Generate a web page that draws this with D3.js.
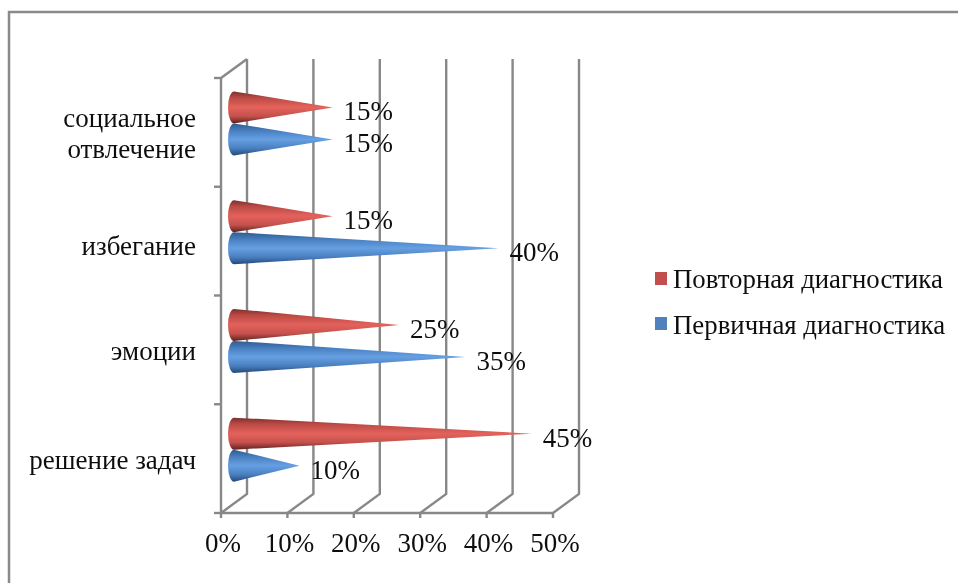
<!DOCTYPE html>
<html>
<head>
<meta charset="utf-8">
<script src="https://cdn.jsdelivr.net/npm/d3@7"></script>
<style>
html, body { margin: 0; padding: 0; background: #fff; }
text { font-family: "Liberation Serif", serif; fill: #111; }
</style>
</head>
<body>
<script>
var categories = ['решение задач', 'эмоции', 'избегание', 'социальное|отвлечение']
var firstValues = [10, 35, 40, 15]
var repeatValues = [45, 25, 15, 15]
var xTicks = [0, 10, 20, 30, 40, 50]
var legendNames = ['Повторная диагностика', 'Первичная диагностика']
var legendColors = ['#c0504d', '#4f81bd']

var width = 958, height = 583

var svg = d3.select('body').append('svg')
	.attr('width', width)
	.attr('height', height)
	.style('display', 'block')

var defs = svg.append('defs')
function coneGradient(id, stops){
	var g = defs.append('linearGradient').attr('id', id)
		.attr('x1', 0).attr('y1', 0).attr('x2', 0).attr('y2', 1)
	stops.forEach(function(s){
		g.append('stop').attr('offset', s[0]).attr('stop-color', s[1])
	})
}
coneGradient('redCone', [[0, '#7a2f2d'], [0.2, '#bb4a44'], [0.5, '#e4625c'], [0.78, '#c4504c'], [1, '#5e2220']])
coneGradient('blueCone', [[0, '#2f5a8f'], [0.25, '#4a82c4'], [0.5, '#66a0e2'], [0.78, '#4a7fc0'], [1, '#234a78']])

// the source picture is a soft scan, so everything gets a slight blur
defs.append('filter').attr('id', 'soft')
	.attr('filterUnits', 'userSpaceOnUse')
	.attr('x', 0).attr('y', 0)
	.attr('width', width).attr('height', height)
	.append('feGaussianBlur').attr('stdDeviation', 0.45)

var root = svg.append('g').attr('filter', 'url(#soft)')

root.append('rect')
	.attr('width', width).attr('height', height)
	.style('fill', '#fff')

// frame of the picture
root.append('rect')
	.attr('x', 9).attr('y', 12)
	.attr('width', 960).attr('height', 600)
	.style('fill', '#fff')
	.style('stroke', '#8a8a8a')
	.style('stroke-width', 2.5)

var x = d3.scaleLinear().domain([0, 50]).range([221, 553])
var y = d3.scaleBand().domain(categories).range([513, 78])
var depthX = 26, depthY = -19

var grid = root.append('g').style('stroke', '#888').style('stroke-width', 2.4).style('fill', 'none')

// walls
grid.selectAll('.wall').data(xTicks).enter().append('path')
	.attr('class', 'wall')
	.attr('d', function(d){
		return d3.line()([[x(d), 513], [x(d) + depthX, 513 + depthY], [x(d) + depthX, 78 + depthY]])
	})
grid.append('path').attr('d', d3.line()([[x(0), 78], [x(0) + depthX, 78 + depthY]]))
grid.append('path').attr('d', d3.line()([[x(0), 78], [x(0), 513], [x(50), 513]]))

// ticks
grid.selectAll('.xtick').data(xTicks).enter().append('line')
	.attr('class', 'xtick')
	.attr('x1', function(d){ return x(d) }).attr('x2', function(d){ return x(d) })
	.attr('y1', 513).attr('y2', 518)
var yEdges = categories.map(function(c){ return y(c) + y.bandwidth() }).concat([y(categories[3])])
grid.selectAll('.ytick').data(yEdges).enter().append('line')
	.attr('class', 'ytick')
	.attr('x1', x(0) - 7).attr('x2', x(0))
	.attr('y1', function(d){ return d }).attr('y2', function(d){ return d })

root.selectAll('.xlabel').data(xTicks).enter().append('text')
	.attr('class', 'xlabel')
	.attr('x', function(d){ return x(d) + 2 })
	.attr('y', 552)
	.attr('text-anchor', 'middle')
	.style('font-size', '27px')
	.text(function(d){ return d + '%' })

// category labels, the third one sits a little lower in the picture
var catLabels = root.selectAll('.cat').data(categories).enter().append('text')
	.attr('class', 'cat')
	.attr('text-anchor', 'end')
	.style('font-size', '27px')
catLabels.each(function(c, n){
	var lines = c.split('|')
	var mid = y(c) + y.bandwidth() / 2 + (n == 2 ? 14 : 10)
	d3.select(this).selectAll('tspan').data(lines).enter().append('tspan')
		.attr('x', 196)
		.attr('y', function(d, i){ return mid + (i - (lines.length - 1) / 2) * 31 })
		.text(function(d){ return d })
})

// cones
var baseOffset = 12, coneHalf = 16, baseRx = 6
var barGap = 16, barLift = -9
function cone(d){
	var cy = y(d.cat) + y.bandwidth() / 2 + barLift + d.shift
	var bx = x(0) + 13
	var tip = x(d.value) + baseOffset
	return 'M' + tip + ',' + cy +
		'L' + bx + ',' + (cy - coneHalf) +
		'A' + baseRx + ',' + coneHalf + ' 0 0 0 ' + bx + ',' + (cy + coneHalf) + 'Z'
}
var coneData = []
categories.forEach(function(c, i){
	coneData.push({cat: c, value: firstValues[i], shift: barGap, fill: 'url(#blueCone)'})
	coneData.push({cat: c, value: repeatValues[i], shift: -barGap, fill: 'url(#redCone)'})
})
root.selectAll('.cone').data(coneData).enter().append('path')
	.attr('class', 'cone')
	.attr('d', cone)
	.style('fill', function(d){ return d.fill })

root.selectAll('.vlabel').data(coneData).enter().append('text')
	.attr('class', 'vlabel')
	.attr('x', function(d){ return x(d.value) + 23 })
	.attr('y', function(d){ return y(d.cat) + y.bandwidth() / 2 + barLift + d.shift + 13 })
	.style('font-size', '27px')
	.text(function(d){ return d.value + '%' })

// legend
var legend = root.selectAll('.legend').data(legendNames).enter().append('g').attr('class', 'legend')
legend.append('rect')
	.attr('x', 655)
	.attr('y', function(d, i){ return 272 + i * 45 })
	.attr('width', 12).attr('height', 13)
	.style('fill', function(d, i){ return legendColors[i] })
legend.append('text')
	.attr('x', 673)
	.attr('y', function(d, i){ return 288 + i * 46 })
	.style('font-size', '26.8px')
	.text(function(d){ return d })
</script>
</body>
</html>
